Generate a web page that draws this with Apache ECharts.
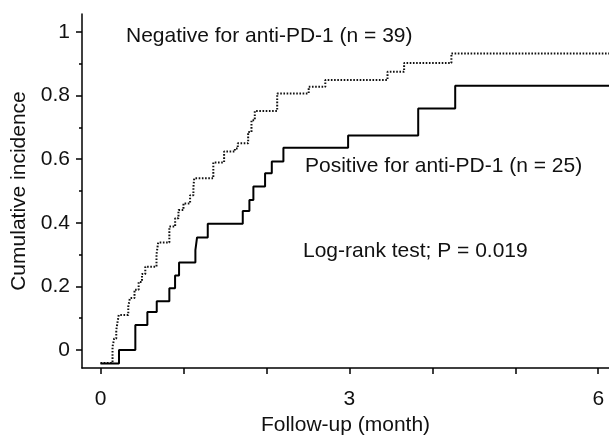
<!DOCTYPE html>
<html>
<head>
<meta charset="utf-8">
<script src="https://cdn.jsdelivr.net/npm/echarts@6/dist/echarts.min.js"></script>
<style>
  html, body { margin: 0; padding: 0; background: #fff; }
  #chart { width: 609px; height: 436px; }
</style>
</head>
<body>
<div id="chart"></div>
<script>
// Positive for anti-PD-1 (solid): time of step (month), level after step
var posTime = [0, 0.223, 0.42, 0.565, 0.678, 0.83, 0.899, 0.947, 1.144, 1.164, 1.293, 1.715, 1.795, 1.843, 1.984, 2.065, 2.205, 2.985, 3.83, 4.276, 6.13];
var posValue = [-0.043, 0.0, 0.078, 0.119, 0.153, 0.194, 0.234, 0.275, 0.314, 0.354, 0.397, 0.437, 0.472, 0.514, 0.556, 0.593, 0.636, 0.675, 0.76, 0.831, 0.831];

// Negative for anti-PD-1 (dotted)
var negTime = [0, 0.145, 0.165, 0.19, 0.205, 0.22, 0.335, 0.355, 0.41, 0.46, 0.50, 0.54, 0.675, 0.695, 0.83, 0.90, 0.94, 1.0, 1.08, 1.12, 1.13, 1.36, 1.49, 1.62, 1.655, 1.78, 1.82, 1.86, 2.13, 2.51, 2.71, 3.46, 3.66, 4.23, 6.13];
var negValue = [-0.041, 0.010, 0.036, 0.062, 0.087, 0.110, 0.137, 0.163, 0.189, 0.214, 0.239, 0.262, 0.30, 0.338, 0.388, 0.414, 0.44, 0.461, 0.487, 0.513, 0.54, 0.59, 0.624, 0.634, 0.65, 0.686, 0.723, 0.752, 0.807, 0.828, 0.849, 0.875, 0.903, 0.933, 0.933];

var xTicks = [0, 1, 2, 3, 4, 5, 6];
var xLabels = [0, 3, 6];
var yMajor = [0, 0.2, 0.4, 0.6, 0.8, 1];
var yMinor = [0.1, 0.3, 0.5, 0.7, 0.9];

var labelNeg = 'Negative for anti-PD-1 (n = 39)';
var labelPos = 'Positive for anti-PD-1 (n = 25)';
var labelTest = 'Log-rank test; P = 0.019';

function pairs(t, v) { return t.map(function (x, i) { return [x, v[i]]; }); }

var FONT = "'Liberation Sans', Arial, Helvetica, sans-serif";
var chart = echarts.init(document.getElementById('chart'), null, { renderer: 'canvas' });

var yMin = -0.057, yMax = 1.057;
chart.setOption({
  animation: false,
  backgroundColor: '#fff',
  grid: { left: 82, right: 0, top: 14, bottom: 68, containLabel: false, outerBoundsMode: 'none' },
  xAxis: {
    type: 'value', min: -0.223, max: 6.13,
    axisLine: { show: true, onZero: false, lineStyle: { color: '#000', width: 1.5 } },
    axisTick: { show: true, customValues: xTicks, length: 6, inside: false, lineStyle: { color: '#000', width: 1.5 } },
    axisLabel: { show: true, customValues: xLabels, margin: 21, fontSize: 21, color: '#111', fontFamily: FONT },
    splitLine: { show: false },
    name: 'Follow-up (month)', nameLocation: 'middle', nameGap: 45,
    nameTextStyle: { fontSize: 21, color: '#111', fontFamily: FONT }
  },
  yAxis: [{
    type: 'value', min: yMin, max: yMax,
    axisLine: { show: true, onZero: false, lineStyle: { color: '#000', width: 1.5 } },
    axisTick: { show: true, customValues: yMajor, length: 6, lineStyle: { color: '#000', width: 1.5 } },
    axisLabel: { show: true, customValues: yMajor, margin: 12, fontSize: 21, color: '#111', fontFamily: FONT,
      formatter: function (v) { return String(Math.round(v * 10) / 10); } },
    splitLine: { show: false },
    name: 'Cumulative incidence', nameLocation: 'middle', nameGap: 50,
    nameTextStyle: { fontSize: 21, color: '#111', fontFamily: FONT }
  }, {
    type: 'value', min: yMin, max: yMax, position: 'left', offset: 0,
    axisLine: { show: false, onZero: false },
    axisTick: { show: true, customValues: yMinor, length: 3, lineStyle: { color: '#000', width: 1.5 } },
    axisLabel: { show: false },
    splitLine: { show: false }
  }],
  series: [{
    type: 'line', name: labelNeg, step: 'end', data: pairs(negTime, negValue),
    showSymbol: false, symbol: 'none',
    lineStyle: { color: '#111', width: 2, type: [1.6, 1.6] }
  }, {
    type: 'line', name: labelPos, step: 'end', data: pairs(posTime, posValue),
    showSymbol: false, symbol: 'none',
    lineStyle: { color: '#000', width: 2, type: 'solid' }
  }],
  graphic: [
    { type: 'text', left: 126, top: 26, style: { text: labelNeg, font: '21px ' + FONT, fill: '#111' } },
    { type: 'text', left: 305, top: 156, style: { text: labelPos, font: '21px ' + FONT, fill: '#111' } },
    { type: 'text', left: 303, top: 241, style: { text: labelTest, font: '21px ' + FONT, fill: '#111' } }
  ]
});
</script>
</body>
</html>
